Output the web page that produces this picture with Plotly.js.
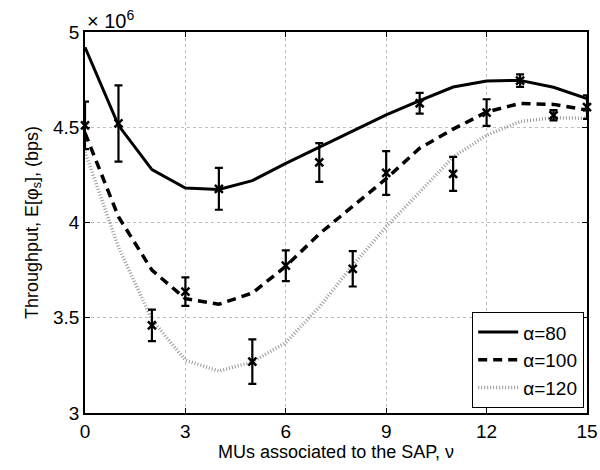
<!DOCTYPE html>
<html>
<head>
<meta charset="utf-8">
<script src="https://cdn.plot.ly/plotly-3.0.1.min.js"></script>
<style>html,body{margin:0;padding:0;background:#fff}#chart{width:600px;height:470px}</style>
</head>
<body>
<div id="chart"></div>
<script>
// Values in units of 10^6 bps
var nu = [0,1,2,3,4,5,6,7,8,9,10,11,12,13,14,15];
var alpha80  = [4.92,4.51,4.278,4.181,4.173,4.22,4.31,4.395,4.48,4.565,4.64,4.711,4.743,4.746,4.71,4.65];
var alpha100 = [4.47,4.03,3.75,3.60,3.571,3.63,3.77,3.94,4.085,4.23,4.39,4.49,4.58,4.625,4.62,4.59];
var alpha120 = [4.37,3.87,3.49,3.277,3.22,3.268,3.37,3.556,3.775,3.977,4.16,4.344,4.458,4.53,4.55,4.547];
var simX    = [0,1,2,3,4,5,6,7,8,9,10,11,12,13,14,15];
var simMean = [4.51,4.52,3.46,3.637,4.177,3.27,3.773,4.315,3.757,4.26,4.626,4.255,4.577,4.745,4.563,4.606];
var simErr  = [0.125,0.2,0.083,0.075,0.11,0.117,0.081,0.102,0.093,0.115,0.054,0.089,0.07,0.033,0.027,0.062];
var legendNames = ['\u03b1=80','\u03b1=100','\u03b1=120'];
var xTicks = [0,3,6,9,12,15];
var yTicks = [3,3.5,4,4.5,5];
var yTickText = ['3','3.5','4','4.5','5'];

var font = 'Liberation Sans, Arial, Helvetica, sans-serif';
var traces = [
  {x: nu, y: alpha80, mode: 'lines', name: legendNames[0], line: {color: '#000', width: 3}},
  {x: nu, y: alpha100, mode: 'lines', name: legendNames[1], line: {color: '#000', width: 3.5, dash: '9px,6px'}},
  {x: nu, y: alpha120, mode: 'lines', name: legendNames[2], line: {color: '#999999', width: 3.5, dash: '1px,2px'}},
  {x: simX, y: simMean, mode: 'markers', showlegend: false, cliponaxis: false,
   marker: {symbol: 'x-thin', size: 8, color: '#000', line: {color: '#000', width: 2.5}},
   error_y: {type: 'data', array: simErr, visible: true, color: '#000', thickness: 2.2, width: 4}}
];
var layout = {
  width: 600, height: 470,
  margin: {l: 85, r: 13, t: 32, b: 57},
  paper_bgcolor: '#fff', plot_bgcolor: '#fff',
  font: {family: font, color: '#000', size: 18},
  showlegend: true,
  legend: {x: 0.994, y: 0.013, xanchor: 'right', yanchor: 'bottom',
           bgcolor: '#fff', bordercolor: '#000', borderwidth: 1.2,
           font: {family: font, size: 19, color: '#000'}, itemwidth: 40, tracegroupgap: 0},
  xaxis: {range: [0, 15], tickvals: xTicks, ticks: 'inside', ticklen: 5, tickcolor: '#000',
          showline: true, linecolor: '#000', linewidth: 1.8, mirror: 'ticks',
          showgrid: true, gridcolor: '#bdbdbd', griddash: 'dot', gridwidth: 1, zeroline: false,
          tickfont: {size: 19, family: font},
          title: {text: 'MUs associated to the SAP, \u03bd', font: {size: 18, family: font}, standoff: 4}},
  yaxis: {range: [3, 5], tickvals: yTicks, ticktext: yTickText, ticks: 'inside', ticklen: 5, tickcolor: '#000',
          showline: true, linecolor: '#000', linewidth: 1.8, mirror: 'ticks',
          showgrid: true, gridcolor: '#bdbdbd', griddash: 'dot', gridwidth: 1, zeroline: false,
          tickfont: {size: 19, family: font},
          title: {text: 'Throughput, E[\u03c6<sub>s</sub>], (bps)', font: {size: 18, family: font}, standoff: 10}},
  annotations: [{xref: 'paper', yref: 'paper', x: 0, y: 1, xanchor: 'left', yanchor: 'bottom',
                 text: '\u00d7 10<sup>6</sup>', showarrow: false, font: {size: 20, family: font}, yshift: -2}]
};
Plotly.newPlot('chart', traces, layout, {displayModeBar: false, staticPlot: true});
</script>
</body>
</html>
